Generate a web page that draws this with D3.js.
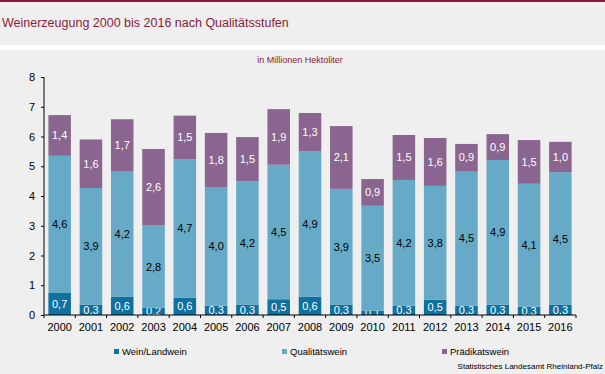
<!DOCTYPE html>
<html>
<head>
<meta charset="utf-8">
<script src="https://cdn.jsdelivr.net/npm/d3@7"></script>
<style>
  body { margin: 0; background: #eeefee; }
  svg { display: block; font-family: "Liberation Sans", Arial, sans-serif; }
</style>
</head>
<body>
<div id="chart"></div>
<script>
// data (million hectolitres)
var years = ["2000","2001","2002","2003","2004","2005","2006","2007","2008",
             "2009","2010","2011","2012","2013","2014","2015","2016"];
var landwein   = [0.74,0.34,0.61,0.24,0.58,0.31,0.34,0.53,0.61,0.34,0.14,0.31,0.51,0.31,0.34,0.28,0.34];
var qualitaet  = [4.61,3.93,4.23,2.77,4.66,3.99,4.16,4.52,4.9,3.9,3.53,4.23,3.83,4.53,4.87,4.13,4.46];
var praedikat  = [1.37,1.63,1.74,2.57,1.46,1.82,1.48,1.87,1.28,2.11,0.9,1.51,1.61,0.91,0.87,1.47,1.02];
var seriesNames = ["Wein/Landwein","Qualitätswein","Prädikatswein"];
var yTicks = [0,1,2,3,4,5,6,7,8];

var colors = ["#0f71a0", "#66aac8", "#8a658f"];
var labelColors = ["#fff", "#000", "#fff"];

var W = 605, H = 374;
var svg = d3.select("#chart").append("svg").attr("width", W).attr("height", H);

svg.append("rect").attr("width", W).attr("height", H).attr("fill", "#eeefee");
svg.append("rect").attr("y", 0).attr("width", W).attr("height", 2).attr("fill", "#8b1b3a");
svg.append("rect").attr("y", 45).attr("width", W).attr("height", 5).attr("fill", "#fff");

svg.append("text").attr("x", 2).attr("y", 27)
  .attr("fill", "#8b1b3a").style("font-size", "12.5px")
  .text("Weinerzeugung 2000 bis 2016 nach Qualitätsstufen");

svg.append("text").attr("x", 300).attr("y", 63).attr("text-anchor", "middle")
  .attr("fill", "#8b1b3a").style("font-size", "9px")
  .text("in Millionen Hektoliter");

var x = d3.scaleBand().domain(years).range([44, 576]).paddingInner(0.28).paddingOuter(0.14);
var y = d3.scaleLinear().domain([0, 8]).range([315, 77]);

var rows = years.map(function(yr, i) {
  return { year: yr, landwein: landwein[i], qualitaet: qualitaet[i], praedikat: praedikat[i] };
});
var keys = ["landwein", "qualitaet", "praedikat"];
var stacked = d3.stack().keys(keys)(rows);

var fmt = function(v) { return v.toFixed(1).replace(".", ","); };

stacked.forEach(function(layer, k) {
  var g = svg.append("g");
  g.selectAll("rect").data(layer).enter().append("rect")
    .attr("x", function(d) { return x(d.data.year); })
    .attr("width", x.bandwidth())
    .attr("y", function(d) { return y(d[1]); })
    .attr("height", function(d) { return y(d[0]) - y(d[1]); })
    .attr("fill", colors[k]);
  g.selectAll("text").data(layer).enter().append("text")
    .attr("x", function(d) { return x(d.data.year) + x.bandwidth() / 2; })
    .attr("y", function(d) { return (y(d[0]) + y(d[1])) / 2 + 4; })
    .attr("text-anchor", "middle")
    .attr("fill", labelColors[k])
    .style("font-size", "11px")
    .text(function(d) { return fmt(d.data[keys[k]]); });
});

// y axis
var yAxis = svg.append("g").attr("transform", "translate(44,0)")
  .call(d3.axisLeft(y).tickValues(yTicks).tickSize(3).tickPadding(6).tickFormat(d3.format("d")));
yAxis.selectAll("text").style("font-size", "11px").attr("fill", "#000");
yAxis.selectAll("line, path").attr("stroke", "#000");
yAxis.select(".domain").attr("d", "M0,77V315");

// x axis
var xAxis = svg.append("g").attr("transform", "translate(0,315)")
  .call(d3.axisBottom(x).tickSize(0).tickPadding(8));
xAxis.select(".domain").attr("stroke", "#000").attr("d", "M44,0H576");
xAxis.selectAll("text").style("font-size", "11px").attr("fill", "#000");
svg.append("g").selectAll("line").data(d3.range(years.length + 1)).enter().append("line")
  .attr("x1", function(i) { return 44 + i * x.step(); })
  .attr("x2", function(i) { return 44 + i * x.step(); })
  .attr("y1", 315).attr("y2", 318).attr("stroke", "#000");

// legend
var legendX = [114, 282, 442];
var lg = svg.append("g").selectAll("g").data(seriesNames).enter().append("g")
  .attr("transform", function(d, i) { return "translate(" + legendX[i] + ",349)"; });
lg.append("rect").attr("width", 5).attr("height", 5).attr("fill", function(d, i) { return colors[i]; });
lg.append("text").attr("x", 8).attr("y", 6).style("font-size", "9.5px").attr("fill", "#000")
  .text(function(d) { return d; });

svg.append("text").attr("x", 603).attr("y", 369).attr("text-anchor", "end")
  .style("font-size", "8px").attr("fill", "#000")
  .text("Statistisches Landesamt Rheinland-Pfalz");
</script>
</body>
</html>
